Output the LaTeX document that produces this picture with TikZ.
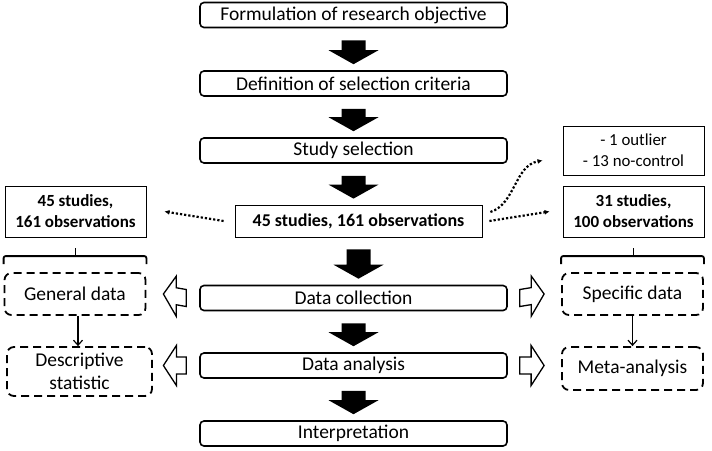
\documentclass[tikz,border=0pt]{standalone}
\usepackage{fontspec}
\setmainfont{Carlito}
\usetikzlibrary{calc,arrows.meta}

% black block arrow between two steps
\newcommand{\fatarrow}[2]{%
\fill let \p1=(#1.south), \p2=(#2.north) in
 (\x1-12pt,\y1-12pt) -- (\x1+12pt,\y1-12pt) -- (\x1+12pt,\y2+20pt) -- (\x1+25pt,\y2+20pt)
 -- (\x1,\y2+6pt) -- (\x1-25pt,\y2+20pt) -- (\x1-12pt,\y2+20pt) -- cycle;}
% white block arrow, from #1 to the tip #2
\newcommand{\openarrow}[2]{%
\draw[line width=1.3pt,line join=miter] ($(#1)+(0,-8.5)$) -- ($(#2)!13pt!(#1)+(0,-8.5)$)
 -- ($(#2)!13pt!(#1)+(0,-20)$) -- (#2) -- ($(#2)!13pt!(#1)+(0,20)$)
 -- ($(#2)!13pt!(#1)+(0,8.5)$) -- ($(#1)+(0,8.5)$) -- cycle;}

\begin{document}
\begin{tikzpicture}[x=1pt,y=-1pt,
 stepbox/.style={draw,line width=1.6pt,rounded corners=4pt,minimum width=307pt,minimum height=25pt,
  inner sep=0pt,font=\fontsize{19.5}{21}\selectfont},
 countbox/.style={draw,line width=0.8pt,minimum width=141pt,inner sep=0pt,align=center,
  font=\fontsize{17}{21}\bfseries},
 dashbox/.style={draw,line width=1.8pt,dash pattern=on 8pt off 5pt,rounded corners=7pt,
  minimum width=141pt,inner sep=0pt,align=center,font=\fontsize{19.5}{23}\selectfont},
 dotarrow/.style={line width=2.2pt,dash pattern=on 2.2pt off 2pt,-{Latex[length=5pt,width=5pt]}},
 brace/.style={line width=1.8pt,rounded corners=2pt},
 thinarrow/.style={line width=1.2pt,-{Straight Barb[length=5pt,width=9pt]}}]
\useasboundingbox (0,0) rectangle (712,450);
%main steps
\node[stepbox] (form) at (353.5,15) {Formulation of research objective};
\node[stepbox] (crit) at (353.5,83.5) {Definition of selection criteria};
\node[stepbox] (sel) at (353.5,150.5) {Study selection};
\node[draw,line width=0.8pt,minimum width=247pt,minimum height=32pt,inner sep=0pt,
 font=\fontsize{18}{20}\bfseries] (all) at (358.5,221) {45 studies, 161 observations};
\node[stepbox] (coll) at (353.5,298) {Data collection};
\node[stepbox] (anal) at (353.5,365.5) {Data analysis};
\node[stepbox] (interp) at (353.5,433.5) {Interpretation};
\fatarrow{form}{crit}
\fatarrow{crit}{sel}
\fatarrow{sel}{all}
\fatarrow{all}{coll}
\fatarrow{coll}{anal}
\fatarrow{anal}{interp}
%counts
\node[countbox,minimum height=51pt] (obsl) at (75.5,211.5) {45 studies,\\161 observations};
\node[countbox,minimum height=51pt] (obsr) at (633.5,211.5) {31 studies,\\100 observations};
\node[countbox,minimum height=49pt,font=\fontsize{16.8}{21}\selectfont] (excl) at (633.5,150.5)
 {- 1 outlier\\- 13 no-control};
\coordinate (dl) at ($(all.west)+(-11,0)$);
\coordinate (dr) at ($(all.east)+(7,0)$);
\draw[dotarrow] (dl) -- ($(obsl.east)+(18,0)$);
\draw[dotarrow] (dr) -- ($(obsr.west)+(-13,0)$);
\coordinate (cs) at ($(all.east)+(8,-9)$);
\coordinate (ce) at ($(excl.west)+(-20,10)$);
\draw[dotarrow] (cs) .. controls ($(cs)+(25,-8)$) and ($(ce)+(-28,5)$) .. (ce);
%left branch
\node[dashbox,minimum height=42pt] (gen) at (75,294) {General data};
\node[dashbox,minimum width=145pt,minimum height=49pt] (desc) at (79.5,371.5) {Descriptive\\statistic};
\coordinate (bl) at ($(obsl.south)+(0,11)$);
\draw[brace] (gen.north west) ++(0,-8) -- ++(0,-8) -| ($(gen.north east)+(0,-8)$);
\draw[brace] (bl) -- ++(0,9);
\coordinate (gs) at ($(gen.south)+(3,0)$);
\draw[thinarrow] (gs) -- (gs |- desc.north);
%right branch
\node[dashbox,minimum height=42pt] (spec) at (632.5,294) {Specific data};
\node[dashbox,minimum height=43pt] (meta) at (632.5,368.5) {Meta-analysis};
\coordinate (br) at ($(obsr.south)+(0,11)$);
\draw[brace] (spec.north west) ++(0,-8) -- ++(0,-8) -| ($(spec.north east)+(0,-8)$);
\draw[brace] (br) -- ++(0,9);
\draw[thinarrow] (spec.south) -- (spec.south |- meta.north);
%white arrows
\coordinate (a1) at ($(coll.west)+(-13,0)$);
\coordinate (t1) at ($(gen.east)+(17,0)$);
\coordinate (a2) at ($(anal.west)+(-13,0)$);
\coordinate (a3) at ($(coll.east)+(12,0)$);
\coordinate (t3) at ($(spec.west)+(-17,0)$);
\coordinate (a4) at ($(anal.east)+(12,0)$);
\openarrow{a1}{t1}
\openarrow{a2}{a2 -| t1}
\openarrow{a3}{t3}
\openarrow{a4}{a4 -| t3}
\end{tikzpicture}
\end{document}
